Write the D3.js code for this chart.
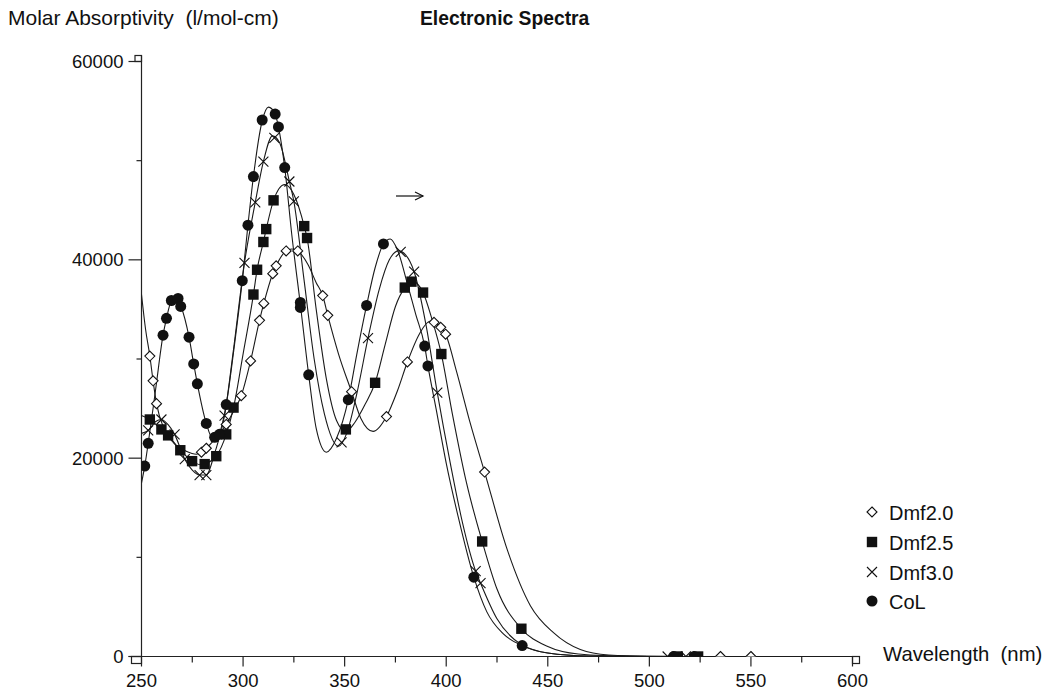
<!DOCTYPE html>
<html>
<head>
<meta charset="utf-8">
<script src="https://cdn.jsdelivr.net/npm/d3@7"></script>
<style>
    body { margin: 0; background: #fff; }
    svg { display: block; font-family: "Liberation Sans", Arial, sans-serif; }
    text { white-space: pre; fill: #111; }
</style>
</head>
<body>
<svg id="canvas" width="1047" height="692"></svg>
<script>
// values: [wavelength nm, molar absorptivity]
var seriesNames = ["Dmf2.0", "Dmf2.5", "Dmf3.0", "CoL"];
var seriesShapes = ["diamond", "square", "cross", "circle"];

var dmf20Curve = [[250, 36500], [252, 33000], [254.1, 30300], [255.7, 27800], [257.4, 25500], [261, 23000], [266, 21500],
    [272, 20700], [277, 20400], [279.5, 20600], [281.9, 21000], [286, 21900], [291.7, 23400], [295.5, 24800],
    [299.1, 26300], [303.7, 29800], [308.1, 33900], [310.2, 35600], [314.6, 38600], [316.3, 39400], [321.2, 40900],
    [324, 41100], [326.9, 40900], [332, 39500], [336, 37700], [339.2, 36400], [341.7, 34400], [347, 30500],
    [353.4, 26700], [358, 24000], [364, 22700], [370.6, 24200], [376, 26800], [380.9, 29700], [387, 32600],
    [392, 33800], [397.3, 33200], [399.7, 32500], [405, 28800], [412, 23400], [418.9, 18600], [430, 10800],
    [441.5, 5100], [452.8, 2400], [466, 700], [480, 150], [500, 20], [520, 0], [600, 0]];
var dmf20Marks = [[254.1, 30300], [255.7, 27800], [257.4, 25500], [279.5, 20600], [281.9, 21000], [291.7, 23400],
    [299.1, 26300], [303.7, 29800], [308.1, 33900], [310.2, 35600], [314.6, 38600], [316.3, 39400], [321.2, 40900],
    [326.9, 40900], [339.2, 36400], [341.7, 34400], [353.4, 26700], [370.6, 24200], [380.9, 29700], [394, 33700],
    [397.3, 33200], [399.7, 32500], [418.9, 18600], [535, 0], [550, 0]];

var dmf25Curve = [[250, 24300], [254.1, 23900], [259.8, 22900], [263.1, 22300], [269.1, 20800], [274.9, 19700],
    [280, 19300], [281.1, 19400], [286.8, 20200], [291.7, 22400], [295.3, 25100], [300, 30500], [305.1, 36500],
    [306.9, 39000], [310, 41800], [311.4, 43100], [315, 46000], [320.5, 47600], [325, 46600], [330.1, 43400],
    [331.5, 42200], [336, 35000], [341, 28000], [346, 23800], [350.6, 22700], [355, 23600], [360, 25400],
    [365, 27600], [370, 31500], [375, 35300], [379.6, 37200], [383, 37900], [388.6, 36700], [393, 34000],
    [397.6, 30500], [403, 24500], [410, 17500], [417.7, 11600], [425, 6800], [437, 2800], [450, 1000],
    [465, 250], [490, 20], [520, 0], [600, 0]];
var dmf25Marks = [[254.1, 23900], [259.8, 22900], [263.1, 22300], [269.1, 20800], [274.9, 19700], [281.1, 19400],
    [286.8, 20200], [291.7, 22400], [295.3, 25100], [305.1, 36500], [306.9, 39000], [310, 41800], [311.4, 43100],
    [315, 46000], [330.1, 43400], [331.5, 42200], [350.6, 22900], [365, 27600], [379.6, 37200], [382.9, 37800],
    [388.6, 36700], [397.6, 30500], [417.7, 11600], [437, 2800], [514, 0], [524, 0]];

var dmf30Curve = [[250, 22500], [253.3, 22800], [257, 23700], [259.8, 23900], [263, 23400], [266.3, 22400],
    [271.3, 19900], [275, 18800], [278.6, 18300], [281.9, 18300], [286, 20500], [290.9, 24300], [295, 30500],
    [300.7, 39700], [306, 45800], [310, 49900], [314.5, 52500], [318, 51800], [322.8, 47900], [325, 45900],
    [330, 38000], [335, 30000], [340, 24500], [347, 21200], [351, 22500], [356, 26500], [361.5, 32100],
    [367, 37000], [372, 40000], [376.5, 40900], [380, 40500], [384.2, 38800], [390, 33500], [395.6, 26600],
    [402, 19500], [408, 13500], [414.5, 8600], [416.9, 7400], [425, 3800], [437, 1200], [450, 350], [470, 50],
    [500, 0], [600, 0]];
var dmf30Marks = [[253.3, 22800], [259.8, 23900], [266.3, 22400], [271.3, 19900], [278.6, 18300], [281.9, 18300],
    [290.9, 24300], [300.7, 39700], [306, 45800], [310, 49900], [315.4, 52300], [322.8, 47900], [325, 45900],
    [348.5, 21600], [361.5, 32100], [377.6, 40800], [384.2, 38800], [395.6, 26600], [414.5, 8600], [416.9, 7400],
    [509, 0], [518, 0]];

var colCurve = [[250, 17500], [251.6, 19200], [253.3, 21500], [257, 27000], [260.6, 32400], [262.3, 34100],
    [264.7, 35900], [267, 36300], [269.3, 35400], [273.4, 32200], [275.7, 29500], [277.5, 27500], [281.9, 23500],
    [285, 22000], [287.5, 22200], [291.7, 25400], [295.5, 31000], [299.6, 37900], [302.4, 43500], [305.1, 48400],
    [309.4, 54000], [312.5, 55400], [315.8, 54700], [317.4, 53400], [320.5, 49300], [324, 42500], [328.2, 35500],
    [332.3, 28400], [336, 23000], [341, 20600], [346, 22000], [351.8, 25900], [356, 30500], [360.8, 35400],
    [365, 39200], [369.1, 41600], [372.5, 42100], [376, 41000], [381, 37500], [385, 34500], [389.4, 31300],
    [391, 29300], [395, 25000], [400, 19500], [406, 14000], [413.6, 8000], [420, 4500], [428, 2300],
    [437.4, 1100], [450, 350], [470, 50], [500, 0], [600, 0]];
var colMarks = [[251.6, 19200], [253.3, 21500], [260.6, 32400], [262.3, 34100], [264.7, 35900], [268, 36100],
    [269.3, 35300], [273.4, 32200], [275.7, 29500], [277.5, 27500], [281.9, 23500], [286, 22100], [288.4, 22400],
    [291.7, 25400], [299.6, 37900], [302.4, 43500], [305.1, 48400], [309.4, 54100], [315.8, 54700], [317.4, 53400],
    [320.5, 49300], [328.2, 35700], [328.2, 35200], [332.3, 28400], [351.8, 25900], [360.8, 35400], [369.1, 41600],
    [389.4, 31300], [391, 29300], [413.6, 8000], [437.4, 1100], [512, 0], [522, 0]];

var xTicks = [250, 300, 350, 400, 450, 500, 550, 600];
var xMinorTicks = [275, 325, 375, 425, 475, 525, 575];
var yTicks = [0, 20000, 40000, 60000];
var yMinorTicks = [10000, 30000, 50000];

var curves = [dmf20Curve, dmf25Curve, dmf30Curve, colCurve];
var marks = [dmf20Marks, dmf25Marks, dmf30Marks, colMarks];

var svg = d3.select("#canvas");
// plot box edges (not "top": that name belongs to window)
var plotLeft = 141.5, plotRight = 852.5, plotTop = 61.5, plotBottom = 656.5;

var x = d3.scaleLinear().domain([250, 600]).range([plotLeft, plotRight]);
var y = d3.scaleLinear().domain([0, 60000]).range([plotBottom, plotTop]);

svg.append("defs").append("clipPath").attr("id", "plot-clip")
    .append("rect")
    .attr("x", plotLeft).attr("y", plotTop)
    .attr("width", plotRight - plotLeft).attr("height", plotBottom - plotTop);

// titles
svg.append("text").attr("x", 8).attr("y", 25).attr("font-size", 21)
    .text("Molar Absorptivity  (l/mol-cm)");
svg.append("text").attr("x", 420).attr("y", 25).attr("font-size", 19.3).attr("font-weight", "bold")
    .text("Electronic Spectra");
svg.append("text").attr("x", 883).attr("y", 661).attr("font-size", 20.3)
    .text("Wavelength  (nm)");

// axes
var axes = svg.append("g").attr("stroke", "#222").attr("stroke-width", 1.2).attr("fill", "none");
axes.append("line").attr("x1", plotLeft).attr("x2", plotLeft).attr("y1", plotTop - 6).attr("y2", plotBottom);
axes.append("line").attr("x1", plotLeft - 13).attr("x2", plotRight + 7).attr("y1", plotBottom).attr("y2", plotBottom);

yTicks.forEach(function (t) {
    axes.append("line").attr("x1", plotLeft - 13).attr("x2", plotLeft).attr("y1", y(t)).attr("y2", y(t));
});
yMinorTicks.forEach(function (t) {
    axes.append("line").attr("x1", plotLeft - 5).attr("x2", plotLeft).attr("y1", y(t)).attr("y2", y(t));
});
xTicks.forEach(function (t) {
    axes.append("line").attr("x1", x(t)).attr("x2", x(t)).attr("y1", plotBottom).attr("y2", plotBottom + 10);
});
xMinorTicks.forEach(function (t) {
    axes.append("line").attr("x1", x(t)).attr("x2", x(t)).attr("y1", plotBottom).attr("y2", plotBottom + 6);
});

// little end boxes on the axes
axes.append("rect").attr("x", plotLeft - 6.5).attr("y", plotTop - 6).attr("width", 6.5).attr("height", 6);
axes.append("rect").attr("x", plotLeft - 10).attr("y", plotBottom).attr("width", 10).attr("height", 7);
axes.append("rect").attr("x", plotRight).attr("y", plotBottom).attr("width", 7).attr("height", 7);

svg.append("g").attr("font-size", 18.5).attr("text-anchor", "end")
    .selectAll("text").data(yTicks).join("text")
    .attr("x", plotLeft - 18).attr("y", function (d) { return y(d); }).attr("dy", "0.36em")
    .text(function (d) { return d; });

svg.append("g").attr("font-size", 18.5).attr("text-anchor", "middle")
    .selectAll("text").data(xTicks).join("text")
    .attr("x", function (d) { return x(d); }).attr("y", 687)
    .text(function (d) { return d; });

// fitted curves
var line = d3.line()
    .x(function (d) { return x(d[0]); })
    .y(function (d) { return y(d[1]); })
    .curve(d3.curveMonotoneX);

var plot = svg.append("g").attr("clip-path", "url(#plot-clip)");
curves.forEach(function (c) {
    plot.append("path").datum(c).attr("d", line)
        .attr("fill", "none").attr("stroke", "#1a1a1a").attr("stroke-width", 1.1);
});

function drawMarker(g, shape, cx, cy, s) {
    if (shape === "diamond") {
        g.append("path")
            .attr("d", "M" + cx + "," + (cy - s) + "L" + (cx + s) + "," + cy + "L" + cx + "," + (cy + s) + "L" + (cx - s) + "," + cy + "Z")
            .attr("fill", "#fff").attr("stroke", "#111").attr("stroke-width", 1.1);
    } else if (shape === "square") {
        g.append("rect").attr("x", cx - s).attr("y", cy - s).attr("width", 2 * s).attr("height", 2 * s)
            .attr("fill", "#111");
    } else if (shape === "cross") {
        g.append("path")
            .attr("d", "M" + (cx - s) + "," + (cy - s) + "L" + (cx + s) + "," + (cy + s) + "M" + (cx - s) + "," + (cy + s) + "L" + (cx + s) + "," + (cy - s))
            .attr("stroke", "#111").attr("stroke-width", 1.1);
    } else {
        g.append("circle").attr("cx", cx).attr("cy", cy).attr("r", s).attr("fill", "#111");
    }
}

var markerSize = {diamond: 5, square: 5.2, cross: 5, circle: 5.5};
marks.forEach(function (m, i) {
    var shape = seriesShapes[i];
    m.forEach(function (p) {
        drawMarker(plot, shape, x(p[0]), y(p[1]), markerSize[shape]);
    });
});

// the arrow in the plot
var arrow = svg.append("g").attr("stroke", "#111").attr("stroke-width", 1.2).attr("fill", "none");
arrow.append("line").attr("x1", 396).attr("x2", 423).attr("y1", 196).attr("y2", 196);
arrow.append("path").attr("d", "M415,192L423,196L415,200");

// legend
var legendY = [512, 542, 572, 601];
var legend = svg.append("g");
seriesNames.forEach(function (name, i) {
    drawMarker(legend, seriesShapes[i], 872, legendY[i], markerSize[seriesShapes[i]]);
    legend.append("text").attr("x", 889).attr("y", legendY[i] + 8).attr("font-size", 20).text(name);
});
</script>
</body>
</html>
